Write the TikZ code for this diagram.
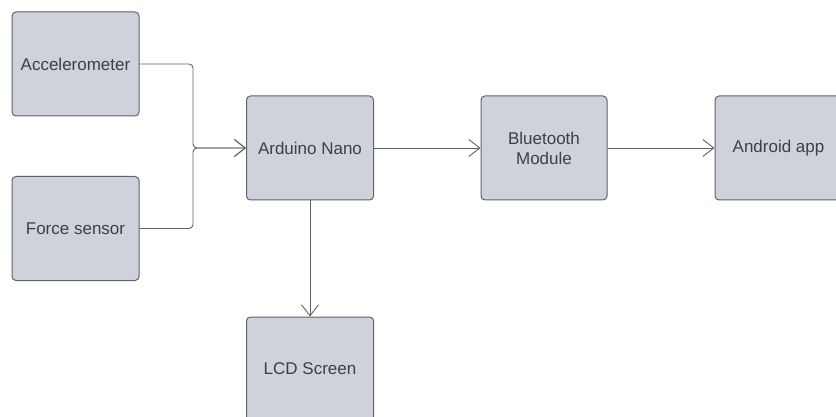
\documentclass[tikz,border=0pt]{standalone}
\usepackage{fontspec}
\setmainfont{Liberation Sans}
\usetikzlibrary{arrows.meta}
\definecolor{boxfill}{HTML}{CED3DB}
\definecolor{boxline}{HTML}{5F6368}
\definecolor{txt}{HTML}{3C4043}
\definecolor{conn}{HTML}{606468}
\tikzset{
  blk/.style={draw=boxline, fill=boxfill, line width=1pt, rounded corners=4pt,
    minimum width=127pt, minimum height=104pt, inner sep=0pt,
    font=\fontsize{17}{20}\selectfont, text=txt, align=center},
  conn/.style={draw=conn, line width=0.9pt, rounded corners=4pt,
    -{Straight Barb[length=11pt,width=17pt,line width=0.9pt]}},
  plain/.style={draw=conn, line width=0.9pt, rounded corners=4pt}
}
\begin{document}
\begin{tikzpicture}[x=1pt,y=-1pt]
\useasboundingbox (0,0) rectangle (836,417);
\clip (0,0) rectangle (836,417);
\fill[white] (0,0) rectangle (836,417);
\node[blk] (acc) at (75.5,64) {Accelerometer};
\node[blk] (force) at (75.5,228.5) {Force sensor};
\node[blk] (nano) at (310,148) {Arduino Nano};
\node[blk, minimum width=126pt] (bt) at (544,148) {Bluetooth\\Module};
\node[blk] (android) at (778.5,148) {Android app};
\node[blk] (lcd) at (310,369) {LCD Screen};
\coordinate (j) at (193,148);
\draw[conn] (acc.east) -| (j) -- (nano.west);
\draw[conn] (force.east) -| (j) -- (nano.west);
\draw[conn] (nano.east) -- (bt.west);
\draw[conn] (bt.east) -- (android.west);
\draw[conn] (nano.south) -- (lcd.north);
\end{tikzpicture}
\end{document}
